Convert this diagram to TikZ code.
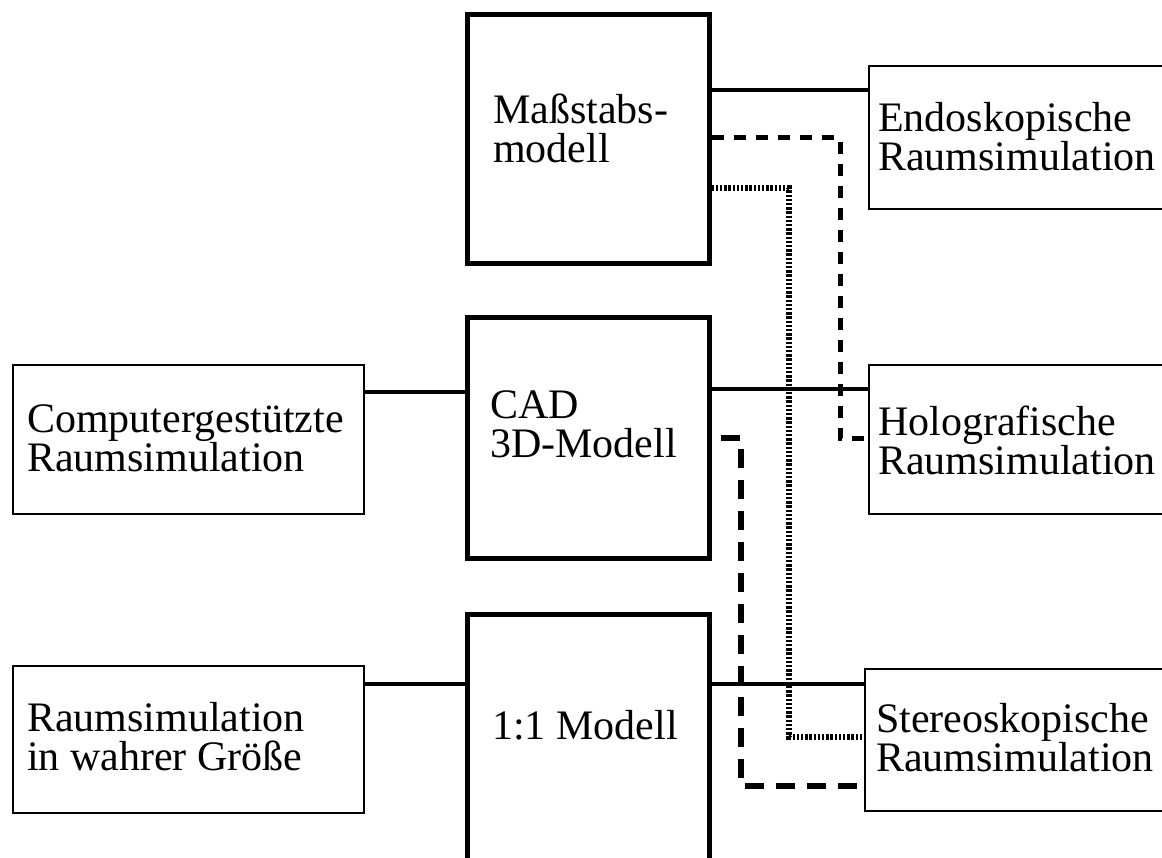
\documentclass[tikz,border=0pt]{standalone}
\usepackage{fontspec}
\setmainfont{Liberation Serif}
\begin{document}
\begin{tikzpicture}[x=1pt,y=-1pt,
  thickbox/.style={draw, rectangle, line width=4.6pt, inner sep=0pt, anchor=north west},
  thinbox/.style={draw, rectangle, line width=2.4pt, inner sep=0pt, anchor=north west},
  txt/.style={anchor=west, inner sep=0pt, align=left, font=\fontsize{42}{39}\selectfont},
  solidline/.style={line width=4.6pt},
  dashA/.style={line width=5pt, dash pattern=on 12pt off 10pt},
  dashB/.style={line width=6pt, dash pattern=on 19pt off 12pt},
  dotline/.style={line width=6pt, dash pattern=on 2.4pt off 1.8pt}]
\useasboundingbox (0,0) rectangle (1162,858);
\clip (0,0) rectangle (1162,858);
% central boxes
\node[thickbox, minimum width=242pt, minimum height=249pt] (mass) at (465,12) {};
\node[thickbox, minimum width=242pt, minimum height=241pt] (cad) at (465,315) {};
\node[thickbox, minimum width=242pt, minimum height=300pt] (eins) at (465,612) {};
% left boxes
\node[thinbox, minimum width=351pt, minimum height=149pt] (comp) at (12,364) {};
\node[thinbox, minimum width=351pt, minimum height=147pt] (wahr) at (12,665) {};
% right boxes
\node[thinbox, minimum width=400pt, minimum height=143pt] (endo) at (868,65) {};
\node[thinbox, minimum width=400pt, minimum height=149pt] (holo) at (868,364) {};
\node[thinbox, minimum width=400pt, minimum height=142pt] (stereo) at (864,668) {};
% texts
\node[txt] (massT) at (493,128) {Maßstabs-\\modell};
\node[txt] (cadT) at (490,424) {CAD\\3D-Modell};
\node[txt] (einsT) at (492,725) {1:1 Modell};
\node[txt] (compT) at (27,438) {Computergestützte\\Raumsimulation};
\node[txt] (wahrT) at (27,737) {Raumsimulation\\in wahrer Größe};
\node[txt] (endoT) at (878,137) {Endoskopische\\Raumsimulation};
\node[txt] (holoT) at (878,440) {Holografische\\Raumsimulation};
\node[txt] (stereoT) at (876,738) {Stereoskopische\\Raumsimulation};
% solid connectors
\draw[solidline] (mass.east |- 0,90) -- (endo.west |- 0,90);
\draw[solidline] (cad.east |- 0,389) -- (holo.west |- 0,389);
\draw[solidline] (comp.east |- 0,392) -- (cad.west |- 0,392);
\draw[solidline] (wahr.east |- 0,684) -- (eins.west |- 0,684);
\draw[solidline] (eins.east |- 0,684) -- (stereo.west |- 0,684);
% dashed / dotted connectors
\coordinate (c1) at (840,138);
\coordinate (c2) at (840,438);
\draw[dashA] (mass.east |- c1) -- (c1) -- (c2) -- (holo.west |- c2);
\coordinate (d1) at (789,188);
\coordinate (d2) at (789,737);
\draw[dotline] (mass.east |- d1) -- (d1) -- (d2) -- (stereo.west |- d2);
\coordinate (e0) at (721,438);
\coordinate (e1) at (741,438);
\coordinate (e2) at (741,786);
\draw[dashB] (e0) -- (e1) -- (e2) -- (stereo.west |- e2);
\end{tikzpicture}
\end{document}
